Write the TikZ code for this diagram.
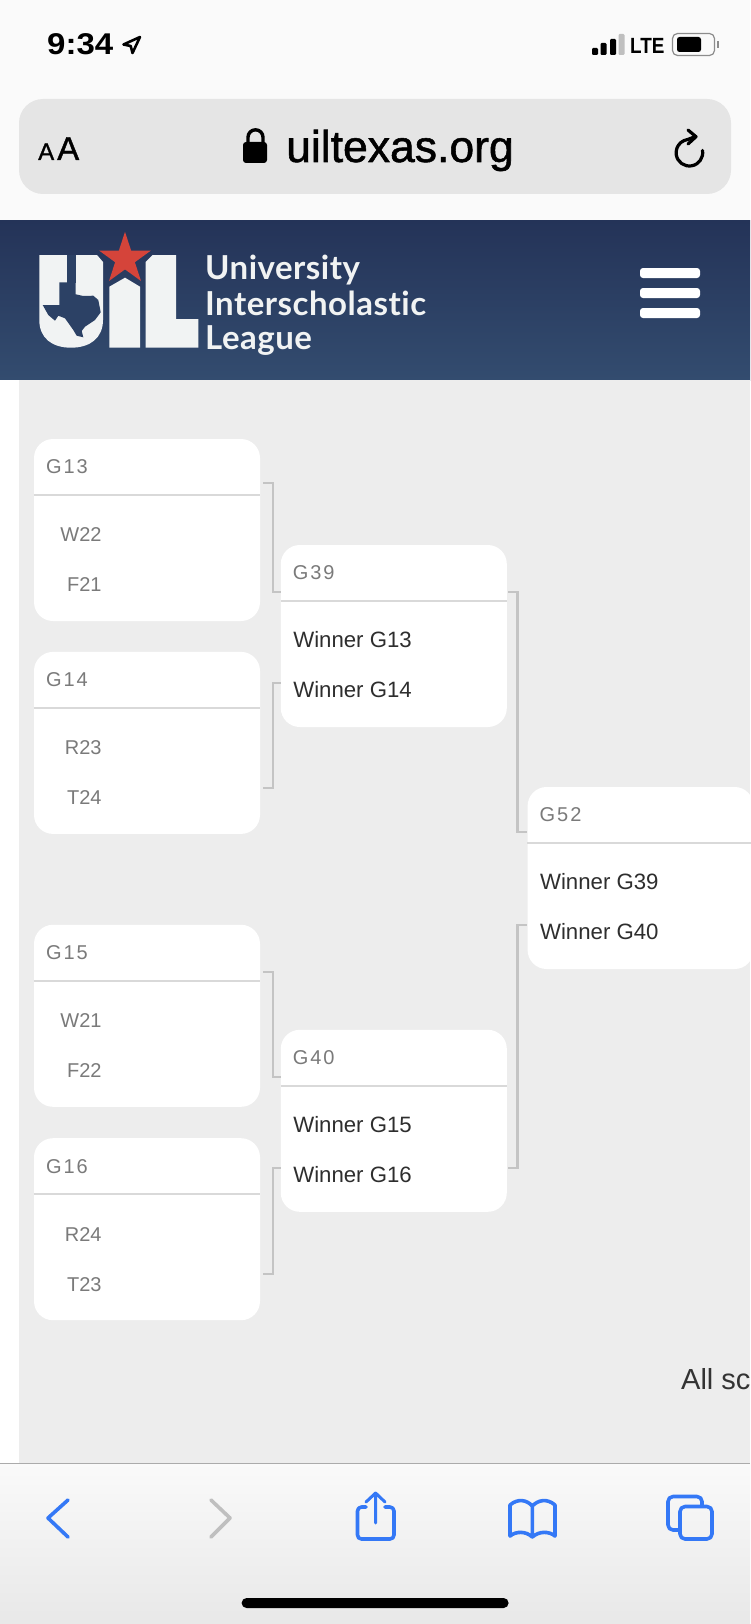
\documentclass[tikz,border=0pt]{standalone}
\usepackage{fontspec}
\setmainfont{Liberation Sans}
\newfontfamily\headfont[LetterSpace=10]{Liberation Sans}
\newfontfamily\urlfont[FakeBold=1.2]{Liberation Sans}
\newfontfamily\logofont[LetterSpace=1.5,Ligatures=NoCommon]{Lato}
\usepackage{tikz}
\usetikzlibrary{positioning,shapes.geometric}
\definecolor{pagegray}{HTML}{EDEDED}
\definecolor{bargray}{HTML}{E5E5E5}
\definecolor{navytop}{HTML}{243358}
\definecolor{navybot}{HTML}{334C6F}
\definecolor{navymid}{HTML}{2C4165}
\definecolor{logowhite}{HTML}{F1F3F3}
\definecolor{starred}{HTML}{D5443A}
\definecolor{iosblue}{HTML}{3478F6}
\tikzset{
  match/.style={fill=white,rounded corners=19pt,minimum width=226pt,minimum height=182pt,inner sep=0pt},
  divider/.style={draw=black!15,line width=2.2pt},
  link/.style={draw=black!23,line width=2.2pt},
  gamehead/.style={anchor=base west,inner sep=0pt,text=black!52,font=\headfont\fontsize{20}{24}\selectfont},
  seed/.style={anchor=base east,inner sep=0pt,text=black!52,font=\fontsize{20}{24}\selectfont},
  winner/.style={anchor=base west,inner sep=0pt,text=black!82,font=\fontsize{22.2}{26}\selectfont},
  toolicon/.style={draw=iosblue,line width=3.6pt,line cap=round,line join=round},
  logotext/.style={anchor=base west,inner sep=0pt,text=logowhite,font=\logofont\bfseries\fontsize{33}{38}\selectfont},
  menubar/.style={fill=white,rounded corners=3pt}
}
\begin{document}
\begin{tikzpicture}[x=1pt,y=-1pt]
\useasboundingbox (0,0) rectangle (750,1624);
% bars and page
\fill[white!98!black] (0,0) rectangle (750,220);
\fill[bargray,rounded corners=24pt] (19,99) rectangle (731,194);
\shade[top color=navytop,bottom color=navybot] (0,220) rectangle (750,380);
\fill[white] (0,380) rectangle (19,1463);
\fill[pagegray] (19,380) rectangle (750,1463);
\shade[top color=white!98!black,bottom color=black!9] (0,1463) rectangle (750,1624);
\draw[black!33,line width=1.2pt] (0,1463.5) -- (750,1463.5);
% status bar
\node[anchor=base west,inner sep=0pt,xscale=1.1,font=\bfseries\fontsize{30}{36}\selectfont] (clock) at (47,55) {9:34};
\draw[line width=2.6pt,line join=round] (140,37) -- (123.5,44.5) -- (130.7,46) -- (132.5,53) -- cycle;
\foreach \x/\t/\c in {592/48/black,600.5/43/black,610/39/black,618.5/34/black!25}
  \fill[\c,rounded corners=1.2pt] (\x,\t) rectangle (\x+6,55);
\node[anchor=base west,inner sep=0pt,xscale=.86,font=\bfseries\fontsize{22}{26}\selectfont] (lte) at (630,54) {LTE};
\draw[black!45,line width=1.2pt,rounded corners=5pt] (672.5,33.5) rectangle (714.5,55.5);
\fill[rounded corners=2.5pt] (677,37) rectangle (701,52);
\fill[black!45] (717,41) rectangle (719,48);
% address bar
\node[anchor=base west,inner sep=0pt,font=\urlfont\fontsize{24}{28}\selectfont] (asmall) at (38,160) {A};
\node[anchor=base west,inner sep=0pt,font=\urlfont\fontsize{33}{38}\selectfont] (abig) at (57,160) {A};
\fill[rounded corners=3pt] (243,142) rectangle (267,163);
\draw[line width=3.4pt] (248,144) -- (248,137.3) arc (180:360:7.5) -- (263,144);
\node[anchor=base west,inner sep=0pt,font=\urlfont\fontsize{44.5}{50}\selectfont] (url) at (286,162) {uiltexas.org};
\draw[line width=3.2pt,line cap=round] (702.5,150.4) arc (-10:262:13.3) -- (695,136.7);
\draw[line width=3.2pt,line cap=round,line join=round] (688,130) -- (696,136.7) -- (688,144);
% logo
\fill[logowhite] (39.3,255) -- (97,255) -- (103,262) -- (103,320) .. controls (103,338) and (90,347.7) .. (71,347.7) .. controls (52,347.7) and (39.3,338) .. (39.3,320) -- cycle;
\fill[navymid] (67.3,255) rectangle (75.7,283);
\fill[navymid] (59.3,282.3) -- (75.7,282.3) -- (75.7,294.3) -- (83.3,296) -- (93.3,295.7) -- (98.3,300) -- (100.7,312.3) -- (95,320) -- (85,326.7) -- (81.7,331) -- (83.3,337.3) -- (76.7,335.7) -- (73.3,330) -- (65,318.3) -- (58.3,315.7) -- (55,320.7) -- (48.3,315) -- (42.7,305) -- (59.3,305) -- cycle;
\fill[logowhite] (109.3,286.7) -- (125,277.7) -- (140,286.7) -- (140,347.7) -- (109.3,347.7) -- cycle;
\fill[logowhite] (145.7,262) -- (152.7,255) -- (176,255) -- (176,319) -- (198.3,319) -- (198.3,347.7) -- (145.7,347.7) -- cycle;
\node[star,star points=5,star point ratio=2.618,fill=starred,minimum size=54.4pt,inner sep=0pt] (lonestar) at (125,259) {};
\node[logotext] (uni) at (205,279) {University};
\node[logotext] (int) at (205,315) {Interscholastic};
\node[logotext] (lea) at (205,349) {League};
\foreach \y in {268,288,308}
  \fill[menubar] (640,\y) rectangle (700,\y+10);
% bracket
\node[match] (g13) at (147,530) {};
\node[match,below=30.5pt of g13] (g14) {};
\node[match,below=90.5pt of g14] (g15) {};
\node[match,below=31pt of g15] (g16) {};
\node[match,right=20.4pt of g13,yshift=-106pt] (g39) {};
\node[match,right=20.4pt of g15,yshift=-105pt] (g40) {};
\node[match,right=20.4pt of g39,yshift=-242pt] (g52) {};
\foreach \n/\h/\a/\b in {g13/G13/W22/F21,g14/G14/R23/T24,g15/G15/W21/F22,g16/G16/R24/T23}{
  \draw[divider] ([yshift=-56pt]\n.north west) -- ([yshift=-56pt]\n.north east);
  \node[gamehead] (\n head) at ([shift={(12,35)}]\n.north west) {\h};
  \node[seed] (\n top) at ([shift={(68,103)}]\n.north west) {\a};
  \node[seed] (\n bot) at ([shift={(68,153)}]\n.north west) {\b};
}
\foreach \n/\h/\a/\b in {g39/G39/G13/G14,g40/G40/G15/G16,g52/G52/G39/G40}{
  \draw[divider] ([yshift=-56pt]\n.north west) -- ([yshift=-56pt]\n.north east);
  \node[gamehead] (\n head) at ([shift={(12,35)}]\n.north west) {\h};
  \node[winner] (\n top) at ([shift={(12.5,103)}]\n.north west) {Winner \a};
  \node[winner] (\n bot) at ([shift={(12.5,153)}]\n.north west) {Winner \b};
}
\draw[link] ([shift={(3,44)}]g13.north east) -| ([shift={(-8,47)}]g39.north west) -- ([shift={(0,47)}]g39.north west);
\draw[link] ([shift={(3,136)}]g14.north east) -| ([shift={(-8,138)}]g39.north west) -- ([shift={(0,138)}]g39.north west);
\draw[link] ([shift={(3,47)}]g15.north east) -| ([shift={(-8,47)}]g40.north west) -- ([shift={(0,47)}]g40.north west);
\draw[link] ([shift={(3,136)}]g16.north east) -| ([shift={(-8,138)}]g40.north west) -- ([shift={(0,138)}]g40.north west);
\draw[link] ([shift={(1,47)}]g39.north east) -| ([shift={(-10,45)}]g52.north west) -- ([shift={(0,45)}]g52.north west);
\draw[link] ([shift={(1,138)}]g40.north east) -| ([shift={(-10,138)}]g52.north west) -- ([shift={(0,138)}]g52.north west);
\node[anchor=base west,inner sep=0pt,text=black!80,font=\fontsize{29}{34}\selectfont] (note) at (681,1389) {All sc};
% toolbar
\draw[toolicon] (68,1500) -- (48,1518) -- (68,1537);
\draw[toolicon,draw=black!25] (211,1500) -- (230,1518) -- (211,1537);
\draw[toolicon,rounded corners=4pt] (366,1507) -- (357.5,1507) -- (357.5,1539) -- (394,1539) -- (394,1507) -- (385,1507);
\draw[toolicon,line width=3pt] (375.6,1523) -- (375.6,1493) (366,1502) -- (375.6,1493) -- (385,1502);
\draw[toolicon] (532.3,1506) .. controls (527,1500) and (518,1498) .. (510,1505) -- (510,1536) .. controls (516,1531) and (526,1531) .. (532.3,1537) .. controls (539,1531) and (549,1531) .. (555,1536) -- (555,1505) .. controls (547,1498) and (538,1500) .. (532.3,1506) -- (532.3,1537);
\draw[toolicon,rounded corners=5pt] (702,1506) |- (668,1496.5) |- (679,1530);
\draw[toolicon,rounded corners=5pt] (680,1506.5) rectangle (712,1539);
\fill[rounded corners=5pt] (241.6,1598) rectangle (508.6,1608);
\end{tikzpicture}
\end{document}
